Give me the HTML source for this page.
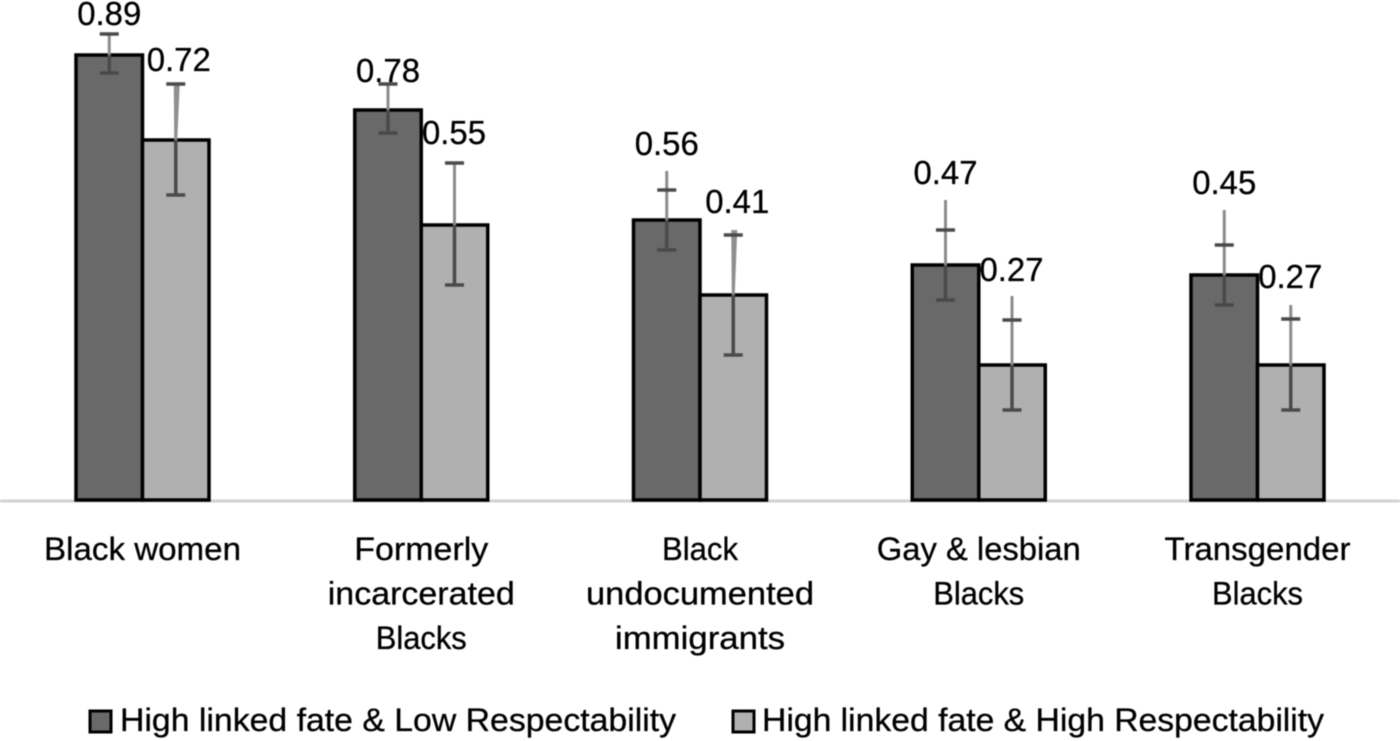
<!DOCTYPE html>
<html lang="en">
<head>
<meta charset="utf-8">
<title>Linked fate and respectability bar chart</title>
<style>
html,body{margin:0;padding:0;background:#fff;width:1400px;height:741px;overflow:hidden}
svg{display:block;filter:blur(0.4px)}
text{font-family:"Liberation Sans",sans-serif;fill:#000;stroke:#000;stroke-width:0.3px}
</style>
</head>
<body>
<svg id="chart" xmlns="http://www.w3.org/2000/svg" width="1400" height="741" viewBox="0 0 1400 741">
  <line x1="0" x2="1400" y1="501" y2="501" stroke="#d2d2d2" stroke-width="3"/>
  <g id="bars"></g>
  <g id="errors"></g>
  <g id="values"></g>
  <g id="cats"></g>
  <g>
    <g>
      <rect x="90" y="711" width="21" height="21" fill="#696969" stroke="#000" stroke-width="3"/>
      <text x="120" y="731" font-size="32" textLength="556" lengthAdjust="spacingAndGlyphs">High linked fate &amp; Low Respectability</text>
    </g>
    <g>
      <rect x="733" y="711" width="21" height="21" fill="#b0b0b0" stroke="#000" stroke-width="3"/>
      <text x="762" y="731" font-size="32" textLength="562" lengthAdjust="spacingAndGlyphs">High linked fate &amp; High Respectability</text>
    </g>
  </g>
</svg>
<script>
var categories = [["Black women"], ["Formerly", "incarcerated", "Blacks"], ["Black", "undocumented", "immigrants"], ["Gay & lesbian", "Blacks"], ["Transgender", "Blacks"]];
var lowRespect = [0.89, 0.78, 0.56, 0.47, 0.45];
var highRespect = [0.72, 0.55, 0.41, 0.27, 0.27];
var lowUpperCap = [0.932, 0.832, 0.62, 0.54, 0.51];
var lowLowerCap = [0.854, 0.734, 0.50, 0.40, 0.39];
var lowWhiskerTop = [0.932, 0.832, 0.658, 0.60, 0.58];
var highUpperCap = [0.832, 0.674, 0.53, 0.36, 0.362];
var highLowerCap = [0.61, 0.43, 0.29, 0.18, 0.18];
var highWhiskerTop = [0.832, 0.674, 0.54, 0.408, 0.39];

var labelNudgeLow = [6, 13, -1, -1, -1];
var labelNudgeHigh = [2, -4, -2, 0, -2];
var labelShiftLow = [0, 0, 0, 0, 0];
var labelShiftHigh = [-1, -4.5, 0, -4.5, -4.5];
var lineWidthFit = { "Black women": 197, "Formerly": 134, "incarcerated": 187, "Blacks": 91, "Black": 76, "undocumented": 228, "immigrants": 170, "Gay & lesbian": 204, "Transgender": 186 };
var NS = "http://www.w3.org/2000/svg";

function yScale(v) { return 500 - 500 * v; }
function xGroup(i) { return 142.5 + 278.75 * i; }

function make(tag, attrs, parent) {
  var el = document.createElementNS(NS, tag);
  for (var k in attrs) { el.setAttribute(k, attrs[k]); }
  parent.appendChild(el);
  return el;
}

var barsG = document.getElementById("bars");
var errG = document.getElementById("errors");
var valG = document.getElementById("values");
var catG = document.getElementById("cats");

function drawSeries(vals, upper, lower, top, side, fill, wedgeIdx, nudge, shift) {
  vals.forEach(function (v, i) {
    var x0 = side < 0 ? xGroup(i) - 66.5 : xGroup(i);
    var cx = x0 + 33.25;
    var bar = make("rect", { x: x0, y: yScale(v), width: 66.5, height: 500 - yScale(v), fill: fill, stroke: "#000", "stroke-width": 3.5 }, barsG);
    
    

    var grey;
    if (wedgeIdx.indexOf(i) >= 0) {
      grey = make("polygon", { points: (cx - 1.5) + "," + yScale(v) + " " + (cx + 1.5) + "," + yScale(v) + " " + (cx + 4) + "," + yScale(top[i]) + " " + (cx - 2) + "," + yScale(top[i]), fill: "#8f8f8f" }, errG);
    } else {
      grey = make("line", { x1: cx, x2: cx, y1: yScale(top[i]), y2: yScale(v), stroke: "#8c8c8c", "stroke-width": 3 }, errG);
    }
    
    

    var stem = make("line", { x1: cx, x2: cx, y1: yScale(v), y2: yScale(lower[i]), stroke: "#4a4a4a", "stroke-width": 3.5 }, errG);
    
    

    var capU = make("line", { x1: cx - 9.5, x2: cx + 9.5, y1: yScale(upper[i]), y2: yScale(upper[i]), stroke: "#4a4a4a", "stroke-width": 3.5 }, errG);
    
    

    var capL = make("line", { x1: cx - 9.5, x2: cx + 9.5, y1: yScale(lower[i]), y2: yScale(lower[i]), stroke: "#4a4a4a", "stroke-width": 3.5 }, errG);
    
    

    var t = make("text", { x: cx + (side < 0 ? 0 : 4) + shift[i], y: yScale(top[i]) - 15 + nudge[i], "font-size": 33, "text-anchor": "middle", textLength: 64, lengthAdjust: "spacingAndGlyphs" }, valG);
    t.textContent = v.toFixed(2);
    
    
  });
}

drawSeries(lowRespect, lowUpperCap, lowLowerCap, lowWhiskerTop, -1, "#696969", [], labelNudgeLow, labelShiftLow);
drawSeries(highRespect, highUpperCap, highLowerCap, highWhiskerTop, 1, "#b0b0b0", [0, 2], labelNudgeHigh, labelShiftHigh);

categories.forEach(function (lines, i) {
  lines.forEach(function (line, j) {
    var t = make("text", { x: xGroup(i), y: 560 + 44.5 * j, "font-size": 32, "text-anchor": "middle", textLength: lineWidthFit[line], lengthAdjust: "spacingAndGlyphs" }, catG);
    t.textContent = line;
    
    
  });
});
</script>
</body>
</html>
